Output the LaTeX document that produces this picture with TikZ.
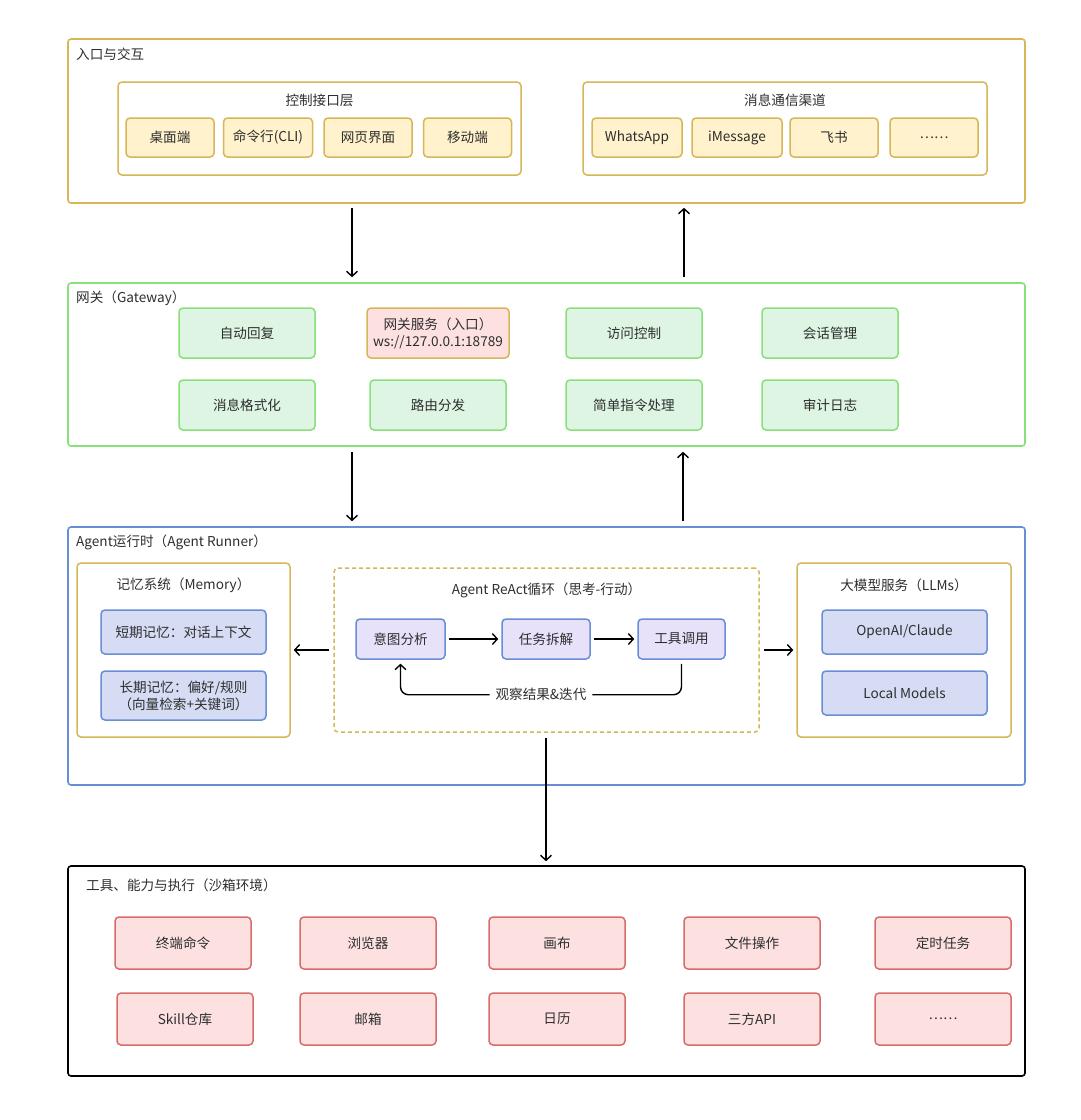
\documentclass[tikz,border=0pt]{standalone}
\usepackage{fontspec}
\setmainfont{Noto Sans CJK SC}
\usetikzlibrary{positioning, arrows.meta}

\definecolor{goldline}{HTML}{D6B656}
\definecolor{goldfill}{HTML}{FFF2CC}
\definecolor{greenline}{HTML}{88E07A}
\definecolor{greenfill}{HTML}{DDF5E2}
\definecolor{redline}{HTML}{D96B6B}
\definecolor{redfill}{HTML}{FDE1E1}
\definecolor{blueline}{HTML}{6A8ED6}
\definecolor{bluefill}{HTML}{D5DCF4}
\definecolor{purplefill}{HTML}{E7E1FA}
\definecolor{textgray}{HTML}{2E2E2E}

\begin{document}
\begin{tikzpicture}[
    x=1pt, y=-1pt,
    font=\fontsize{13.6}{17}\selectfont,
    text=textgray,
    layer/.style={
        draw,
        rounded corners=3pt,
        line width=1.6pt,
        minimum width=957pt
    },
    group/.style={
        draw=goldline,
        rounded corners=4pt,
        line width=1.5pt
    },
    box/.style={
        draw,
        rounded corners=4pt,
        line width=1.5pt,
        align=center,
        inner sep=2pt
    },
    title/.style={
        anchor=west,
        inner sep=0pt
    },
    arrow/.style={
        -{Straight Barb[length=5pt,width=11pt]},
        line width=1.4pt,
        draw=black
    }
]
\useasboundingbox (0,0) rectangle (1080,1120);

% entry and interaction
\node[layer, draw=goldline, minimum height=164pt] (entry) at (546.5,121) {};
\node[title] (entrytitle) at (76,54) {入口与交互};

\node[group, minimum width=403pt, minimum height=93pt] (ctrl) at (319.5,128.5) {};
\node (ctrltitle) at (319.5,100) {控制接口层};
\node[box, draw=goldline, fill=goldfill, minimum width=88pt, minimum height=39pt] (desktop) at (170,137.5) {桌面端};
\node[box, draw=goldline, fill=goldfill, minimum width=89pt, minimum height=39pt] (cli) at (268,137.5) {命令行(CLI)};
\node[box, draw=goldline, fill=goldfill, minimum width=88pt, minimum height=39pt] (web) at (368,137.5) {网页界面};
\node[box, draw=goldline, fill=goldfill, minimum width=88pt, minimum height=39pt] (mobile) at (467.5,137.5) {移动端};

\node[group, minimum width=404pt, minimum height=93pt] (channel) at (785,128.5) {};
\node (channeltitle) at (785,100) {消息通信渠道};
\node[box, draw=goldline, fill=goldfill, minimum width=90pt, minimum height=39pt] (whatsapp) at (637,137.5) {WhatsApp};
\node[box, draw=goldline, fill=goldfill, minimum width=90pt, minimum height=39pt] (imessage) at (737,137.5) {iMessage};
\node[box, draw=goldline, fill=goldfill, minimum width=88pt, minimum height=39pt] (feishu) at (834,137.5) {飞书};
\node[box, draw=goldline, fill=goldfill, minimum width=88pt, minimum height=39pt] (morech) at (934,137.5) {……};

% gateway
\node[layer, draw=greenline, minimum height=163pt] (gateway) at (546.5,364.5) {};
\node[title] (gatewaytitle) at (76,298) {网关（Gateway）};

\node[box, draw=greenline, fill=greenfill, minimum width=136pt, minimum height=50pt] (autoreply) at (247,333) {自动回复};
\node[box, draw=goldline, fill=redfill, minimum width=142pt, minimum height=50pt] (gwservice) at (438,333) {网关服务（入口）\\ws://127.0.0.1:18789};
\node[box, draw=greenline, fill=greenfill, minimum width=136pt, minimum height=50pt] (access) at (634,333) {访问控制};
\node[box, draw=greenline, fill=greenfill, minimum width=136pt, minimum height=50pt] (session) at (830,333) {会话管理};
\node[box, draw=greenline, fill=greenfill, minimum width=136pt, minimum height=50pt] (format) at (247,405) {消息格式化};
\node[box, draw=greenline, fill=greenfill, minimum width=136pt, minimum height=50pt] (routing) at (438,405) {路由分发};
\node[box, draw=greenline, fill=greenfill, minimum width=136pt, minimum height=50pt] (command) at (634,405) {简单指令处理};
\node[box, draw=greenline, fill=greenfill, minimum width=136pt, minimum height=50pt] (audit) at (830,405) {审计日志};

% agent runner
\node[layer, draw=blueline, minimum height=258pt] (runner) at (546.5,656) {};
\node[title] (runnertitle) at (76,542) {Agent运行时（Agent Runner）};

\node[group, minimum width=213pt, minimum height=174pt] (memory) at (183.5,650) {};
\node (memorytitle) at (183.5,585) {记忆系统（Memory）};
\node[box, draw=blueline, fill=bluefill, minimum width=165pt, minimum height=44pt] (shortmem) at (183.5,632) {短期记忆：对话上下文};
\node[box, draw=blueline, fill=bluefill, minimum width=165pt, minimum height=49pt] (longmem) at (183.5,695.5) {长期记忆：偏好/规则\\（向量检索+关键词）};

\node[group, dashed, dash pattern=on 4pt off 3pt, minimum width=425pt, minimum height=164pt] (react) at (546.5,650) {};
\node (reacttitle) at (546.5,590) {Agent ReAct循环（思考-行动）};
\node[box, draw=blueline, fill=purplefill, minimum width=89pt, minimum height=40pt] (intent) at (400.5,639) {意图分析};
\node[box, draw=blueline, fill=purplefill, minimum width=88pt, minimum height=40pt] (split) at (546,639) {任务拆解};
\node[box, draw=blueline, fill=purplefill, minimum width=87pt, minimum height=40pt] (toolcall) at (681.5,639) {工具调用};

\node[group, minimum width=214pt, minimum height=174pt] (llm) at (904,650) {};
\node (llmtitle) at (904,585) {大模型服务（LLMs）};
\node[box, draw=blueline, fill=bluefill, minimum width=165pt, minimum height=44pt] (openai) at (904.5,632) {OpenAI/Claude};
\node[box, draw=blueline, fill=bluefill, minimum width=165pt, minimum height=44pt] (localmodel) at (904.5,693) {Local Models};

% tools and execution
\node[layer, draw=black, minimum height=210pt] (tools) at (546.5,971) {};
\node[title] (toolstitle) at (86,885) {工具、能力与执行（沙箱环境）};

\node[box, draw=redline, fill=redfill, minimum width=136pt, minimum height=52pt] (terminal) at (183,943) {终端命令};
\node[box, draw=redline, fill=redfill, minimum width=136pt, minimum height=52pt] (browser) at (368,943) {浏览器};
\node[box, draw=redline, fill=redfill, minimum width=136pt, minimum height=52pt] (canvas) at (557,943) {画布};
\node[box, draw=redline, fill=redfill, minimum width=136pt, minimum height=52pt] (fileop) at (752,943) {文件操作};
\node[box, draw=redline, fill=redfill, minimum width=136pt, minimum height=52pt] (cron) at (943,943) {定时任务};
\node[box, draw=redline, fill=redfill, minimum width=136pt, minimum height=52pt] (skill) at (185,1019) {Skill仓库};
\node[box, draw=redline, fill=redfill, minimum width=136pt, minimum height=52pt] (mail) at (368,1019) {邮箱};
\node[box, draw=redline, fill=redfill, minimum width=136pt, minimum height=52pt] (calendar) at (557,1019) {日历};
\node[box, draw=redline, fill=redfill, minimum width=136pt, minimum height=52pt] (thirdapi) at (752,1019) {三方API};
\node[box, draw=redline, fill=redfill, minimum width=136pt, minimum height=52pt] (moretool) at (943,1019) {……};

% connectors between layers
\draw[arrow, shorten <=4pt, shorten >=5pt] (entry.south -| 352,0) -- (gateway.north -| 352,0);
\draw[arrow, shorten <=5pt, shorten >=4pt] (gateway.north -| 684,0) -- (entry.south -| 684,0);
\draw[arrow, shorten <=5pt, shorten >=5pt] (gateway.south -| 352,0) -- (runner.north -| 352,0);
\draw[arrow, shorten <=5pt, shorten >=5pt] (runner.north -| 683,0) -- (gateway.south -| 683,0);
\draw[arrow, shorten <=5pt, shorten >=4pt] (react.south -| 546,0) -- (tools.north -| 546,0);

% inside the runner
\draw[arrow, shorten <=4pt, shorten >=3pt] (react.west) -- (memory.east);
\draw[arrow, shorten <=4pt, shorten >=3pt] (react.east) -- (llm.west);
\draw[arrow, shorten <=3pt, shorten >=3pt] (intent) -- (split);
\draw[arrow, shorten <=3pt, shorten >=3pt] (split) -- (toolcall);
\draw[arrow, rounded corners=8pt, shorten <=4pt, shorten >=4pt] (toolcall.south) -- ++(0,35)
    -| node[pos=0.25, fill=white, inner xsep=6pt] (feedback) {观察结果\&迭代} (intent.south);

\end{tikzpicture}
\end{document}
